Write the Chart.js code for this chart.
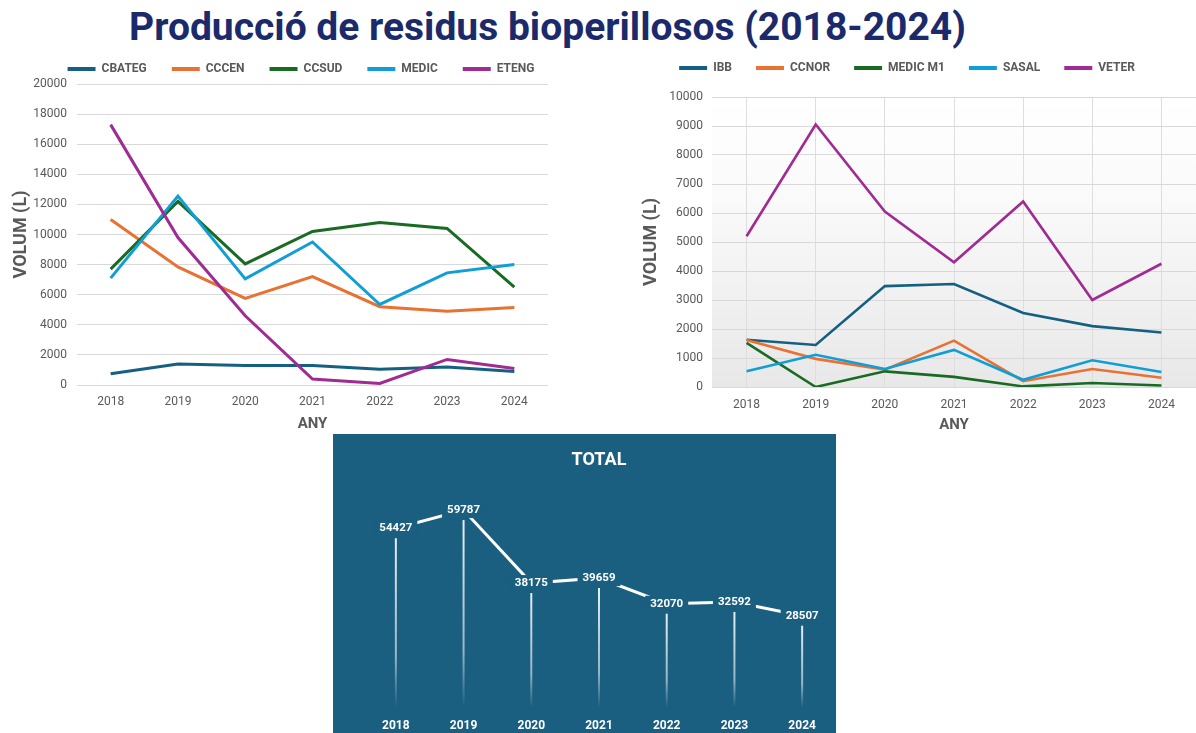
<!DOCTYPE html>
<html>
<head>
<meta charset="utf-8">
<script src="https://cdn.jsdelivr.net/npm/chart.js@4.4.1/dist/chart.umd.min.js"></script>
<style>
html,body{margin:0;padding:0;background:#fff;width:1196px;height:733px;overflow:hidden;}
#title{position:absolute;left:0;top:5px;width:1095px;text-align:center;font-family:Roboto,sans-serif;font-weight:bold;font-size:39px;line-height:44px;color:#1B2A6B;white-space:nowrap;}
.box{position:absolute;}
</style>
</head>
<body>
<div id="title">Producció de residus bioperillosos (2018-2024)</div>
<div class="box" style="left:0;top:55px;width:560px;height:385px"><canvas id="c1"></canvas></div>
<div class="box" style="left:600px;top:55px;width:596px;height:385px"><canvas id="c2"></canvas></div>
<div class="box" style="left:333px;top:434px;width:503px;height:299px;background:#1a5e80"><canvas id="c3"></canvas></div>
<script>
// ---------- DATA ----------
const years = ['2018','2019','2020','2021','2022','2023','2024'];

// Left chart
const CBATEG = [750, 1400, 1300, 1300, 1050, 1200, 900];
const CCCEN  = [11000, 7850, 5750, 7200, 5200, 4900, 5150];
const CCSUD  = [7700, 12200, 8050, 10200, 10800, 10400, 6500];
const MEDIC  = [7100, 12550, 7050, 9500, 5350, 7450, 8000];
const ETENG  = [17300, 9800, 4600, 400, 100, 1700, 1100];

// Right chart
const IBB     = [1630, 1450, 3480, 3550, 2550, 2100, 1880];
const CCNOR   = [1620, 970, 600, 1600, 200, 620, 320];
const MEDICM1 = [1520, 0, 540, 350, 20, 140, 50];
const SASAL   = [540, 1110, 620, 1280, 250, 920, 520];
const VETER   = [5200, 9050, 6050, 4300, 6400, 3000, 4250];

// Total chart
const TOTAL = [54427, 59787, 38175, 39659, 32070, 32592, 28507];

// ---------- STYLE ----------
const C_BLUE = '#156082', C_ORANGE = '#E97132', C_GREEN = '#196B24', C_LBLUE = '#0F9ED5', C_PURPLE = '#A02B93';
const GRAY = '#595959';
const PANEL = '#1a5e80';
const FONT = 'Roboto';

const legendFix = {
  id: 'legendFix',
  beforeInit(chart, args, opts) {
    const lg = chart.legend; if (!lg) return;
    const orig = lg.fit;
    lg.fit = function () { orig.call(this); if (opts.height != null) this.height = opts.height; };
  },
  afterLayout(chart, args, opts) {
    const lg = chart.legend; if (!lg) return;
    const dx = opts.dx || 0, dy = opts.dy || 0;
    lg.left += dx; lg.right += dx; lg.top += dy;
  }
};

const gradientBg = {
  id: 'gradientBg',
  beforeDraw(chart, args, opts) {
    if (!opts.on) return;
    const {ctx, chartArea: a} = chart;
    const g = ctx.createLinearGradient(0, a.top, 0, a.bottom);
    g.addColorStop(0, '#ffffff');
    g.addColorStop(0.35, '#fafafa');
    g.addColorStop(1, '#e8e8e8');
    ctx.save(); ctx.fillStyle = g; ctx.fillRect(a.left, a.top, a.right - a.left, a.bottom - a.top); ctx.restore();
  }
};

function legendLabels(chart) {
  const items = Chart.defaults.plugins.legend.labels.generateLabels(chart);
  items.forEach(i => { i.lineWidth = 0; i.fillStyle = i.strokeStyle; });
  return items;
}

function ds(label, data, color, order, w) {
  return { label, data, borderColor: color, backgroundColor: color, borderWidth: w, pointRadius: 0, tension: 0, order, fill: false };
}

function lineOptions(cfg) {
  return {
    responsive: true, maintainAspectRatio: false, animation: false,
    layout: { padding: cfg.padding },
    plugins: {
      legend: {
        position: 'top',
        labels: {
          boxWidth: 28, boxHeight: 4, padding: cfg.legPad, color: GRAY,
          font: { family: FONT, size: 12, weight: 'bold' },
          generateLabels: legendLabels,
          sort: (a, b) => a.datasetIndex - b.datasetIndex
        }
      },
      legendFix: cfg.legendFix,
      gradientBg: { on: cfg.gradient },
      tooltip: { enabled: false }
    },
    scales: {
      x: {
        offset: true,
        grid: { display: cfg.vgrid, offset: false, color: '#dedede', drawTicks: false },
        border: { display: false },
        ticks: { color: GRAY, font: { family: FONT, size: 12 }, padding: cfg.xTickPad },
        title: { display: true, text: 'ANY', color: GRAY, font: { family: FONT, size: 15, weight: 'bold' }, padding: { top: 0, bottom: cfg.xTitlePad } },
        afterFit(s) { s.height = cfg.xH; }
      },
      y: {
        min: 0, max: cfg.ymax,
        grid: { color: '#d9d9d9', drawTicks: false },
        border: { display: false },
        ticks: { stepSize: cfg.step, color: GRAY, font: { family: FONT, size: 12 }, padding: cfg.yTickPad, callback: v => String(v) },
        title: { display: true, text: 'VOLUM (L)', color: GRAY, font: { family: FONT, size: 18, weight: 'bold' }, padding: { top: cfg.yTitlePad, bottom: 0 } },
        afterFit(s) { s.width = cfg.yW; }
      }
    }
  };
}

new Chart(document.getElementById('c1'), {
  type: 'line',
  data: {
    labels: years,
    datasets: [
      ds('CBATEG', CBATEG, C_BLUE, 4, 3),
      ds('CCCEN', CCCEN, C_ORANGE, 3, 3),
      ds('CCSUD', CCSUD, C_GREEN, 2, 3),
      ds('MEDIC', MEDIC, C_LBLUE, 1, 3),
      ds('ETENG', ETENG, C_PURPLE, 0, 3)
    ]
  },
  options: lineOptions({
    padding: { left: 4, right: 12, top: 0, bottom: 0 },
    legPad: 25, legendFix: { height: 29, dx: 25, dy: -17 },
    gradient: false, vgrid: false,
    xTickPad: 10, xTitlePad: 7, xH: 55,
    ymax: 20000, step: 2000, yTickPad: 10, yTitlePad: 7, yW: 73
  }),
  plugins: [legendFix, gradientBg]
});

new Chart(document.getElementById('c2'), {
  type: 'line',
  data: {
    labels: years,
    datasets: [
      ds('IBB', IBB, C_BLUE, 4, 2.6),
      ds('CCNOR', CCNOR, C_ORANGE, 3, 2.6),
      ds('MEDIC M1', MEDICM1, C_GREEN, 2, 2.6),
      ds('SASAL', SASAL, C_LBLUE, 1, 2.6),
      ds('VETER', VETER, C_PURPLE, 0, 2.6)
    ]
  },
  options: lineOptions({
    padding: { left: 36, right: 0, top: 0, bottom: 0 },
    legPad: 24, legendFix: { height: 42, dx: -9, dy: -17 },
    gradient: true, vgrid: true,
    xTickPad: 11, xTitlePad: 6, xH: 53,
    ymax: 10000, step: 1000, yTickPad: 9, yTitlePad: 5, yW: 76
  }),
  plugins: [legendFix, gradientBg]
});

const totalDecor = {
  id: 'totalDecor',
  beforeDatasetsDraw(chart) {
    const {ctx, chartArea} = chart;
    const meta = chart.getDatasetMeta(0);
    meta.data.forEach(pt => {
      const y0 = pt.y + 10, y1 = chartArea.bottom - 4;
      const g = ctx.createLinearGradient(0, y0, 0, y1);
      g.addColorStop(0, 'rgba(255,255,255,0.9)');
      g.addColorStop(0.7, 'rgba(255,255,255,0.55)');
      g.addColorStop(1, 'rgba(255,255,255,0)');
      ctx.save(); ctx.strokeStyle = g; ctx.lineWidth = 2;
      ctx.beginPath(); ctx.moveTo(pt.x, y0); ctx.lineTo(pt.x, y1); ctx.stroke(); ctx.restore();
    });
  },
  afterDatasetsDraw(chart) {
    const {ctx} = chart;
    const meta = chart.getDatasetMeta(0);
    const data = chart.data.datasets[0].data;
    ctx.save();
    ctx.font = 'bold 11.5px ' + FONT;
    ctx.textAlign = 'center'; ctx.textBaseline = 'middle';
    meta.data.forEach((pt, i) => {
      const t = String(data[i]);
      const w = ctx.measureText(t).width;
      ctx.fillStyle = PANEL;
      ctx.fillRect(pt.x - w / 2 - 5, pt.y - 8, w + 10, 16);
      ctx.fillStyle = '#ffffff';
      ctx.fillText(t, pt.x, pt.y);
    });
    ctx.restore();
  }
};

new Chart(document.getElementById('c3'), {
  type: 'line',
  data: {
    labels: years,
    datasets: [{ label: 'TOTAL', data: TOTAL, borderColor: '#ffffff', borderWidth: 3, pointRadius: 0, tension: 0, fill: false }]
  },
  options: {
    responsive: true, maintainAspectRatio: false, animation: false,
    layout: { padding: { left: 29, right: 0, top: 0, bottom: 0 } },
    plugins: {
      legend: { display: false },
      tooltip: { enabled: false },
      title: { display: true, text: 'TOTAL', color: '#ffffff', font: { family: FONT, size: 18, weight: 'bold' }, padding: { top: 16, bottom: 4 } }
    },
    scales: {
      x: {
        offset: true,
        grid: { display: false, drawTicks: false },
        border: { display: false },
        ticks: { color: '#ffffff', font: { family: FONT, size: 12, weight: 'bold' }, padding: 7 },
        afterFit(s) { s.height = 21; }
      },
      y: { display: false, min: 0, max: 70000 }
    }
  },
  plugins: [totalDecor]
});
</script>
</body>
</html>
